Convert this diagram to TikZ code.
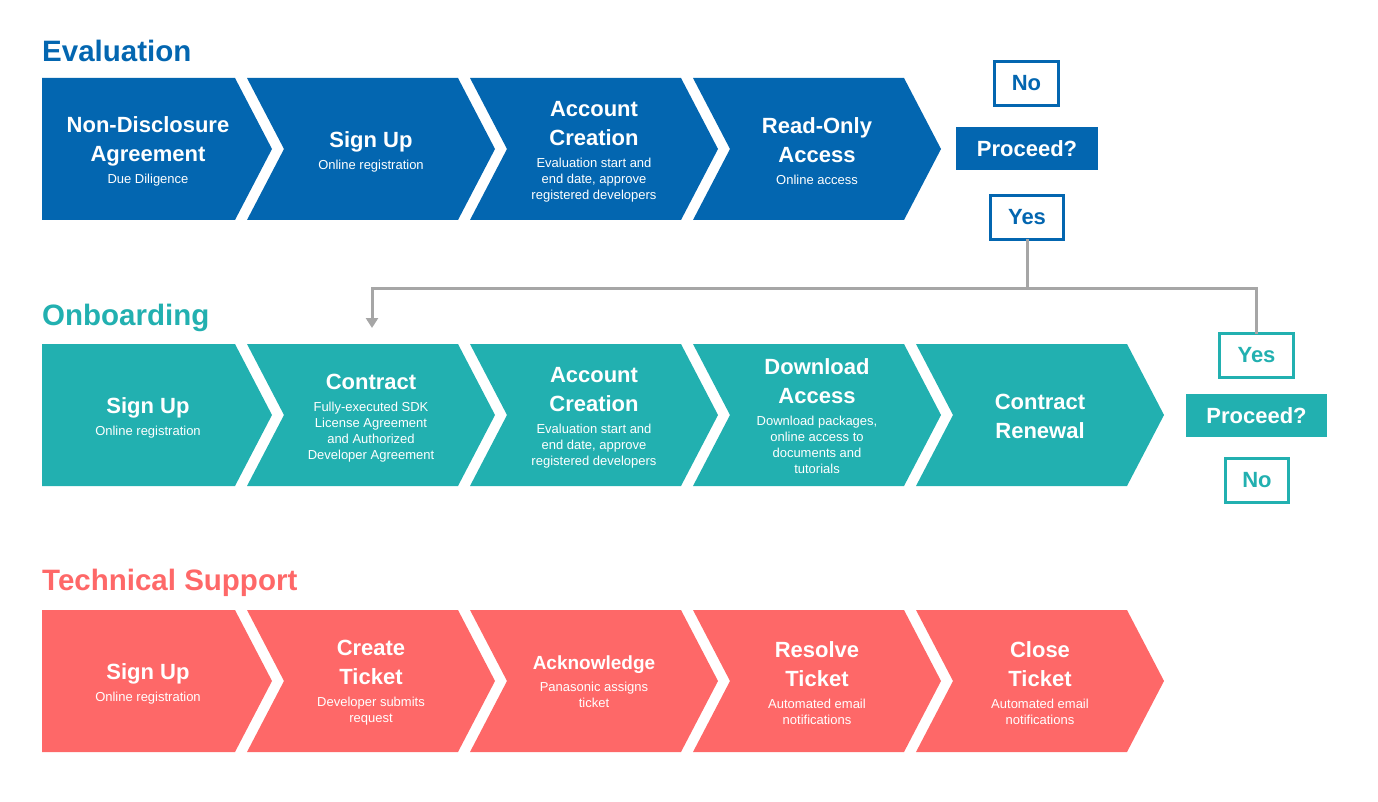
\documentclass[tikz,border=0pt]{standalone}
\usepackage{fontspec}
\setmainfont{Liberation Sans}
\usetikzlibrary{calc,arrows.meta}
\definecolor{cblue}{HTML}{0366B0}
\definecolor{cteal}{HTML}{22B0B0}
\definecolor{cred}{HTML}{FE6868}
\definecolor{cgray}{HTML}{A6A6A6}
\newcommand\bigf{\fontsize{22}{28}\bfseries\selectfont}
\newcommand\smf{\fontsize{13}{16}\selectfont}
\newcommand\bb{\\[13pt]}
\newcommand\bs{\\[6pt]}
\newcommand\mychevA[3]{\fill[#3] (#1,#2) -- (235,#2) -- (272,{#2+71}) -- (235,{#2+142}) -- (#1,{#2+142}) -- cycle;}
\newcommand\mychevB[3]{\fill[#3] (#1,#2) -- ({#1+211},#2) -- ({#1+248},{#2+71}) -- ({#1+211},{#2+142}) -- (#1,{#2+142}) -- ({#1+37},{#2+71}) -- cycle;}
\begin{document}
\begin{tikzpicture}[x=1pt,y=-1pt,
  ttl/.style={anchor=west,font=\fontsize{29.5}{31}\bfseries\selectfont,inner sep=0},
  txt/.style={text=white,align=center,inner sep=0,font={\smf\lineskiplimit=-100pt\lineskip=0pt}},
  obox/.style={draw=#1,line width=3pt,fill=white,text=#1,font=\fontsize{22}{24}\bfseries\selectfont,inner sep=0},
  fbox/.style={fill=#1,text=white,font=\fontsize{22}{24}\bfseries\selectfont,inner sep=0},
  conn/.style={draw=cgray,line width=3pt}]
\useasboundingbox (0,0) rectangle (1378,802);
\node[ttl,text=cblue] (t1) at (42,51) {Evaluation};
\node[ttl,text=cteal] (t2) at (42,318) {Onboarding};
\node[ttl,text=cred] (t3) at (42,583) {Technical Support};
% row 1
\mychevA{42}{78}{cblue}
\foreach \i in {0,1,2}{\mychevB{247+223*\i}{78}{cblue}}
\node[txt] (e1) at (148,151) {\bigf Non-Disclosure\bb\bigf Agreement\bs Due Diligence};
\node[txt] (e2) at (371,152) {\bigf Sign Up\bs Online registration};
\node[txt] (e3) at (594,152) {\bigf Account\bb\bigf Creation\bs Evaluation start and\\end date, approve\\registered developers};
\node[txt] (e4) at (817,151) {\bigf Read-Only\bb\bigf Access\bs Online access};
% row 2
\mychevA{42}{344}{cteal}
\foreach \i in {0,1,2,3}{\mychevB{247+223*\i}{344}{cteal}}
\node[txt] (o1) at (148,418) {\bigf Sign Up\bs Online registration};
\node[txt] (o2) at (371,418) {\bigf Contract\bs Fully-executed SDK\\License Agreement\\and Authorized\\Developer Agreement};
\node[txt] (o3) at (594,418) {\bigf Account\bb\bigf Creation\bs Evaluation start and\\end date, approve\\registered developers};
\node[txt] (o4) at (817,416) {\bigf Download\bb\bigf Access\bs Download packages,\\online access to\\documents and\\tutorials};
\node[txt] (o5) at (1040,416) {\bigf Contract\bb\bigf Renewal};
% row 3
\mychevA{42}{610}{cred}
\foreach \i in {0,1,2,3}{\mychevB{247+223*\i}{610}{cred}}
\node[txt] (s1) at (148,684) {\bigf Sign Up\bs Online registration};
\node[txt] (s2) at (371,683) {\bigf Create\bb\bigf Ticket\bs Developer submits\\request};
\node[txt] (s3) at (594,682) {{\fontsize{19}{24}\bfseries\selectfont Acknowledge}\bs Panasonic assigns\\ticket};
\node[txt] (s4) at (817,683) {\bigf Resolve\bb\bigf Ticket\bs Automated email\\notifications};
\node[txt] (s5) at (1040,683) {\bigf Close\bb\bigf Ticket\bs Automated email\\notifications};
% decisions
\node[obox=cblue,minimum width=64pt,minimum height=44pt] (no1) at (1026.5,83.5) {No};
\node[fbox=cblue,minimum width=142pt,minimum height=43pt] (p1) at (1027,148.5) {Proceed?};
\node[obox=cblue,minimum width=73pt,minimum height=44pt] (yes1) at (1027,217.5) {Yes};
\node[obox=cteal,minimum width=74pt,minimum height=44pt] (yes2) at (1256.5,355.5) {Yes};
\node[fbox=cteal,minimum width=141pt,minimum height=43pt] (p2) at (1256.5,415.5) {Proceed?};
\node[obox=cteal,minimum width=63pt,minimum height=44pt] (no2) at (1257,480.5) {No};
% connectors
\coordinate (j) at (1027,288);
\coordinate (l) at (372,288);
\coordinate (r) at (1256.5,288);
\coordinate (a) at (372,328);
\draw[conn] ([yshift=1.5pt]yes1.south) -- (j);
\draw[conn,line cap=rect] (l) -- (r);
\draw[conn] (r) -- ([yshift=-1.5pt]yes2.north);
\draw[conn,-{Triangle[length=10pt,width=12pt]}] (l) -- (a);
\end{tikzpicture}
\end{document}
